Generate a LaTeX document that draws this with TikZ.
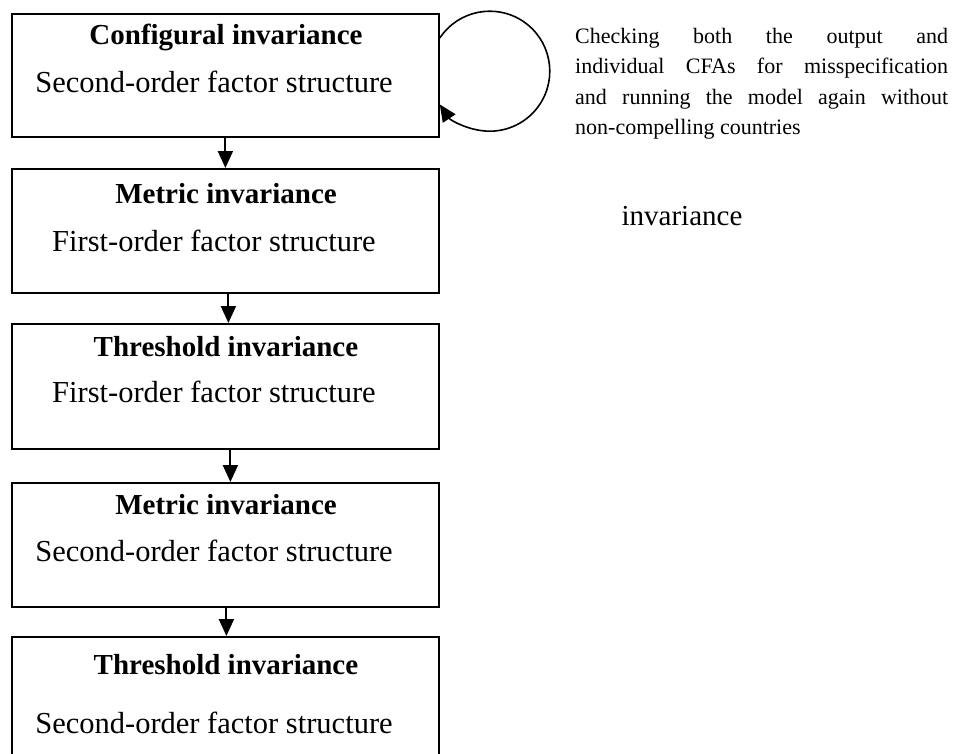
\documentclass[tikz,border=0pt]{standalone}
\usepackage{fontspec}
\setmainfont{Liberation Serif}
\usetikzlibrary{arrows.meta,calc}
\begin{document}
\begin{tikzpicture}[x=1pt,y=-1pt,
  stagebox/.style={draw, line width=1.8pt, minimum width=427pt, anchor=north west, inner sep=0pt},
  titletext/.style={font=\fontsize{29}{32}\selectfont\bfseries, anchor=center},
  subtext/.style={font=\fontsize{30.5}{32}\selectfont, anchor=center},
  flowarrow/.style={line width=2pt, -{Triangle[length=17pt,width=15pt]}},
  notetext/.style={font=\fontsize{22}{30.5}\selectfont, anchor=north west, inner sep=0pt, text width=373pt, align=justify}
]
\useasboundingbox (0,0) rectangle (953,753);
% boxes
\node[stagebox, minimum height=123pt] (b1) at (11,13) {};
\node[stagebox, minimum height=124pt] (b2) at (11,168) {};
\node[stagebox, minimum height=125pt] (b3) at (11,323) {};
\node[stagebox, minimum height=124pt] (b4) at (11,482) {};
\node[stagebox, minimum height=140pt] (b5) at (11,636) {};
% texts
\node[titletext] (t1) at (226,37) {Configural invariance};
\node[subtext] (s1) at (214,82) {Second-order factor structure};
\node[titletext] (t2) at (226,194) {Metric invariance};
\node[subtext] (s2) at (214,241) {First-order factor structure};
\node[titletext] (t3) at (226,347) {Threshold invariance};
\node[subtext] (s3) at (214,392) {First-order factor structure};
\node[titletext] (t4) at (226,505) {Metric invariance};
\node[subtext] (s4) at (214,551) {Second-order factor structure};
\node[titletext] (t5) at (226,665) {Threshold invariance};
\node[subtext] (s5) at (214,723) {Second-order factor structure};
% arrows
\draw[flowarrow] (b1.south) -- (b2.north);
\draw[flowarrow] ($(b2.south)+(3,0)$) -- ($(b3.north)+(3,0)$);
\draw[flowarrow] ($(b3.south)+(5,0)$) -- ($(b4.north)+(5,0)$);
\draw[flowarrow] ($(b4.south)+(1,0)$) -- ($(b5.north)+(1,0)$);
% loop
\draw[flowarrow, line width=1.6pt] ($(b1.north east)+(0,25)$) arc[start angle=213.6, end angle=506.4, radius=60];
% note
\node[notetext] (note) at (575,28) {\hyphenpenalty=10000 Checking both the output and\linebreak individual CFAs for misspecification\linebreak and running the model again without\linebreak non-compelling countries};
\node[font=\fontsize{29}{32}\selectfont, anchor=center] (inv) at (682,216) {invariance};
\end{tikzpicture}
\end{document}
